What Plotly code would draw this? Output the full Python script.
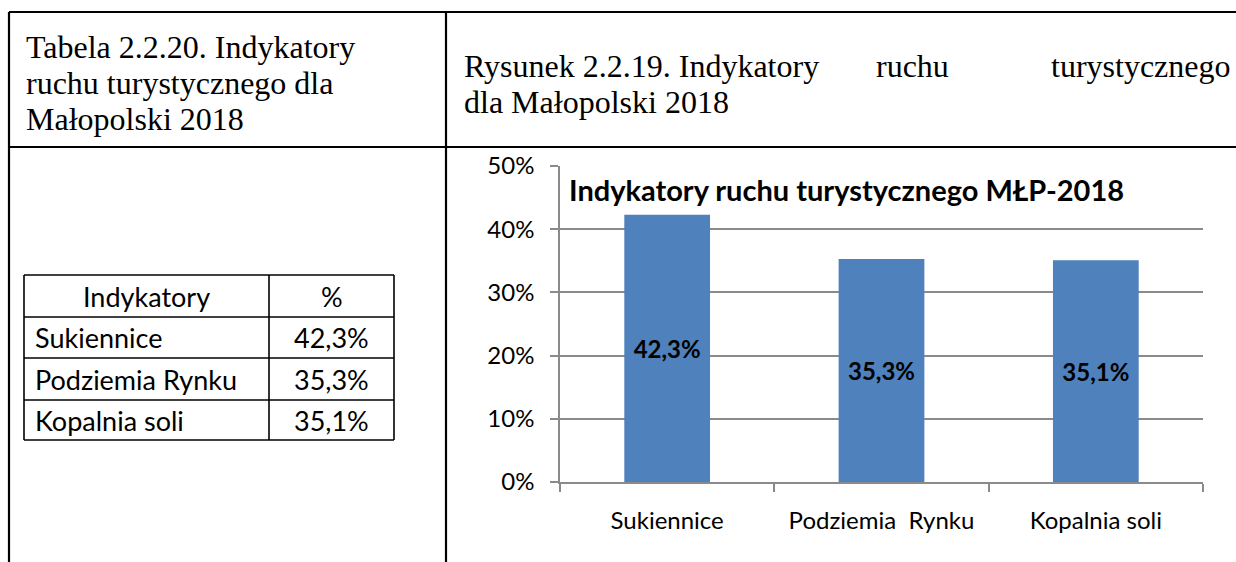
import plotly.graph_objects as go

# --- data ---------------------------------------------------------------
categories = ["Sukiennice", "Podziemia Rynku", "Kopalnia soli"]
axis_labels = ["Sukiennice", "Podziemia\u00a0\u00a0Rynku", "Kopalnia soli"]
values = [0.423, 0.353, 0.351]
y_ticks = [0, 0.1, 0.2, 0.3, 0.4, 0.5]

chart_title = "Indykatory ruchu turystycznego MŁP-2018"
table_caption = ["Tabela 2.2.20. Indykatory", "ruchu turystycznego dla", "Małopolski 2018"]
figure_caption_1 = ["Rysunek 2.2.19. Indykatory", "ruchu", "turystycznego"]
figure_caption_2 = "dla Małopolski 2018"
table_header = ["Indykatory", "%"]

W, H = 1236, 562
SANS = "Lato, Carlito, Calibri, sans-serif"
SERIF = "Liberation Serif, Times New Roman, serif"
BAR = "#4F81BD"
GRID = "#8A8A8A"


def px(x):
    return x / W


def py(y):
    return 1 - y / H


fig = go.Figure()
fig.add_trace(go.Bar(
    x=categories, y=values, width=0.4,
    marker=dict(color=BAR, line=dict(width=0)),
    texttemplate="%{y:.1%}", textposition="inside", insidetextanchor="middle",
    textfont=dict(family=SANS, size=24, color="#000000", weight="bold"),
    textangle=0, hoverinfo="skip",
))

shapes = []
annotations = []


def line(x0, y0, x1, y1, width=2.2, color="#000000"):
    shapes.append(dict(type="line", xref="paper", yref="paper",
                       x0=px(x0), y0=py(y0), x1=px(x1), y1=py(y1),
                       line=dict(color=color, width=width), layer="above"))


# page table frame
line(9, 12, W, 12)
line(9, 147, W, 147)
line(9, 12, 9, H)
line(446, 12, 446, H)

# captions in Times-like serif
for i, t in enumerate(table_caption):
    annotations.append(dict(text=t, x=px(24), y=py(47 + 36 * i), xanchor="left", yanchor="middle",
                            showarrow=False, xref="paper", yref="paper",
                            font=dict(family=SERIF, size=32, color="#000000")))
cap_pos = [(462, "left"), (912, "center"), (1233, "right")]
for (x, anc), t in zip(cap_pos, figure_caption_1):
    annotations.append(dict(text=t, x=px(x), y=py(66), xanchor=anc, yanchor="middle",
                            showarrow=False, xref="paper", yref="paper",
                            font=dict(family=SERIF, size=32, color="#000000")))
annotations.append(dict(text=figure_caption_2, x=px(462), y=py(102), xanchor="left", yanchor="middle",
                        showarrow=False, xref="paper", yref="paper",
                        font=dict(family=SERIF, size=32, color="#000000")))

# small data table
tx0, tx1, tx2 = 24, 269, 394
row_edges = [275, 317, 358, 400, 440]
for y in row_edges:
    line(tx0, y, tx2, y, width=1.6)
for x in (tx0, tx1, tx2):
    line(x, row_edges[0], x, row_edges[-1], width=1.6)

rows = [(table_header[0], table_header[1])] + [
    (c, f"{v * 100:.1f}%".replace(".", ",")) for c, v in zip(categories, values)]
for i, (name, val) in enumerate(rows):
    yc = (row_edges[i] + row_edges[i + 1]) / 2
    if i == 0:
        annotations.append(dict(text=name, x=px((tx0 + tx1) / 2), y=py(yc), xanchor="center",
                                yanchor="middle", showarrow=False, xref="paper", yref="paper",
                                font=dict(family=SANS, size=27, color="#000000")))
    else:
        annotations.append(dict(text=name, x=px(tx0 + 9), y=py(yc), xanchor="left",
                                yanchor="middle", showarrow=False, xref="paper", yref="paper",
                                font=dict(family=SANS, size=27, color="#000000")))
    annotations.append(dict(text=val, x=px((tx1 + tx2) / 2), y=py(yc), xanchor="center",
                            yanchor="middle", showarrow=False, xref="paper", yref="paper",
                            font=dict(family=SANS, size=27, color="#000000")))

# chart title inside plot area
annotations.append(dict(text=f"<b>{chart_title}</b>", x=px(567), y=py(189), xanchor="left",
                        yanchor="middle", showarrow=False, xref="paper", yref="paper",
                        font=dict(family=SANS, size=29, color="#000000")))

fig.update_layout(
    width=W, height=H,
    margin=dict(l=0, r=0, t=0, b=0, autoexpand=False),
    paper_bgcolor="white", plot_bgcolor="white",
    separators=", ",
    showlegend=False,
    shapes=shapes, annotations=annotations,
    xaxis=dict(domain=[px(560), px(1203)], type="category", automargin=False,
               tickvals=categories, ticktext=axis_labels,
               tickson="boundaries", ticks="outside", ticklen=8, tickcolor=GRID, tickwidth=1.5,
               showline=True, linecolor=GRID, linewidth=1.5, showgrid=False,
               ticklabelstandoff=16,
               tickfont=dict(family=SANS, size=24, color="#000000")),
    yaxis=dict(domain=[py(482), py(166)], range=[0, 0.5], tickvals=y_ticks, tickformat=".0%",
               automargin=False,
               ticks="outside", ticklen=8, tickcolor=GRID, tickwidth=1.5,
               showline=True, linecolor=GRID, linewidth=1.5, ticklabelstandoff=11,
               showgrid=True, gridcolor=GRID, gridwidth=1.5, zeroline=False,
               tickfont=dict(family=SANS, size=24, color="#000000")),
)

fig.write_html("out.html")
